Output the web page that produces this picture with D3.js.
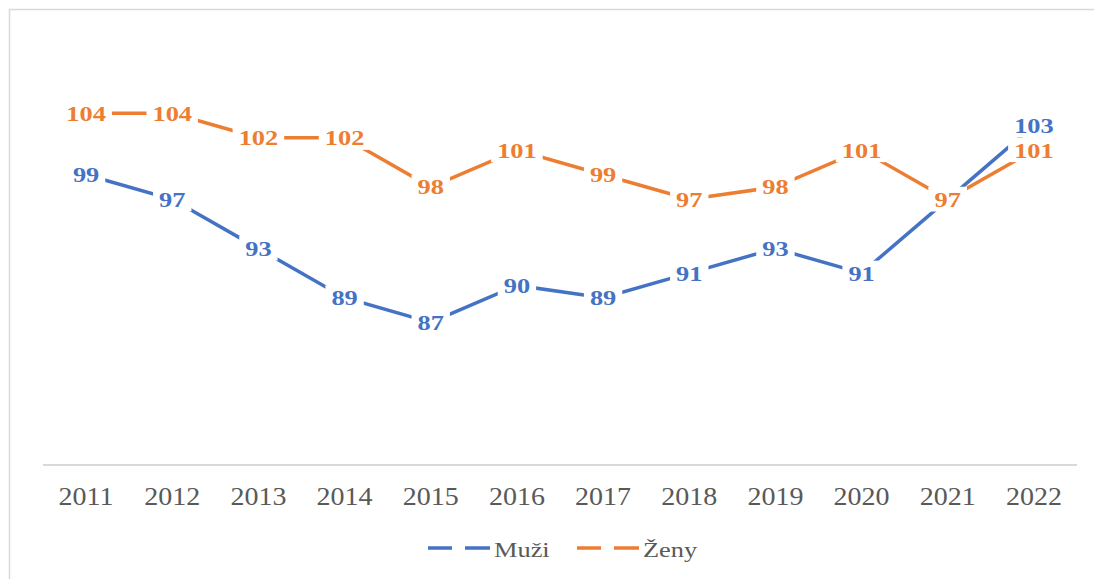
<!DOCTYPE html>
<html>
<head>
<meta charset="utf-8">
<script src="https://cdn.jsdelivr.net/npm/d3@7"></script>
<style>
  body { margin: 0; background: #fff; }
  svg { display: block; }
</style>
</head>
<body>
<svg id="chart"></svg>
<script>
// indexy podle pohlaví, 2011-2022

var years = ["2011","2012","2013","2014","2015","2016","2017","2018","2019","2020","2021","2022"];
var muzi = [99, 97, 93, 89, 87, 90, 89, 91, 93, 91, 97, 103];
var zeny = [104, 104, 102, 102, 98, 101, 99, 97, 98, 101, 97, 101];
var seriesNames = ["Muži", "Ženy"];

var width = 1094;
var height = 579;
var blue = "#4472C4";
var orange = "#ED7D31";
var serif = "'Liberation Serif', 'Times New Roman', serif";
var stretch = 1.2;

var svg = d3.select("#chart")
    .attr("width", width)
    .attr("height", height);

// chart frame
svg.append("rect")
    .attr("x", 9.5).attr("y", 9.5)
    .attr("width", width + 20).attr("height", height + 20)
    .attr("fill", "#fff")
    .attr("stroke", "#d9d9d9")
    .attr("stroke-width", 1.5);

var xScale = d3.scaleBand()
    .domain(years)
    .range([43, 1077]);

var yScale = d3.scaleLinear()
    .domain([75.4, 108])
    .range([465, 64]);

var xPos = d => xScale(d) + xScale.bandwidth() / 2;

// x axis line
svg.append("line")
    .attr("x1", 43).attr("x2", 1077)
    .attr("y1", 465).attr("y2", 465)
    .attr("stroke", "#d9d9d9")
    .attr("stroke-width", 2);

// year labels
svg.selectAll(".year")
    .data(years)
    .enter()
    .append("text")
      .attr("class", "year")
      .attr("transform", d => "translate(" + xPos(d) + ",505) scale(1.12,1)")
      .attr("text-anchor", "middle")
      .style("font-family", serif)
      .style("font-size", "25px")
      .attr("fill", "#595959")
      .text(d => d);

var line = d3.line()
    .x((d, i) => xPos(years[i]))
    .y(d => yScale(d));

var series = [
  { name: seriesNames[0], values: muzi, color: blue },
  { name: seriesNames[1], values: zeny, color: orange }
];

series.forEach(s => {
  svg.append("path")
      .datum(s.values)
      .attr("d", line)
      .attr("fill", "none")
      .attr("stroke", s.color)
      .attr("stroke-width", 3.5);
});

// data labels with white background, drawn after both lines
series.forEach(s => {
  var g = svg.selectAll(".lbl-" + s.name)
      .data(s.values)
      .enter()
      .append("g")
        .attr("transform", (d, i) => "translate(" + xPos(years[i]) + "," + yScale(d) + ") scale(" + stretch + ",1)");
  var bg = g.append("rect").attr("fill", "#fff");
  var t = g.append("text")
      .attr("text-anchor", "middle")
      .attr("dy", "0.34em")
      .style("font-family", serif)
      .style("font-size", "22px")
      .style("font-weight", "bold")
      .attr("fill", s.color)
      .text(d => d);
  t.each(function() {
    var b = this.getBBox();
    d3.select(this.previousSibling)
        .attr("x", b.x - 5).attr("y", b.y)
        .attr("width", b.width + 10).attr("height", b.height);
  });
});

// legend
var legend = [
  { name: seriesNames[0], color: blue, x: 428 },
  { name: seriesNames[1], color: orange, x: 577 }
];
legend.forEach(l => {
  svg.append("line")
      .attr("x1", l.x).attr("x2", l.x + 24)
      .attr("y1", 548).attr("y2", 548)
      .attr("stroke", l.color).attr("stroke-width", 3.5);
  svg.append("line")
      .attr("x1", l.x + 37).attr("x2", l.x + 62)
      .attr("y1", 548).attr("y2", 548)
      .attr("stroke", l.color).attr("stroke-width", 3.5);
  svg.append("text")
      .attr("transform", "translate(" + (l.x + 66) + ",557) scale(1.2,1)")
      .style("font-family", serif)
      .style("font-size", "22px")
      .attr("fill", "#595959")
      .text(l.name);
});
</script>
</body>
</html>
